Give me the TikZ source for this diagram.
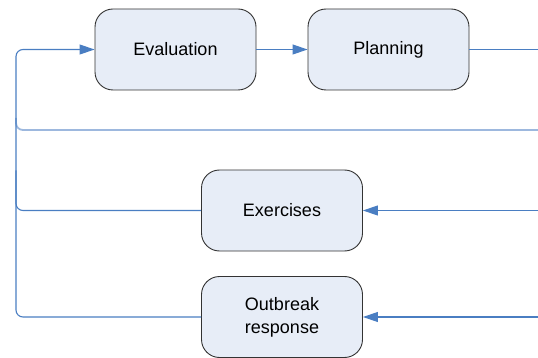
\documentclass[tikz,border=0pt]{standalone}
\usepackage{fontspec}
\setmainfont{Liberation Sans}
\usepackage{tikz}
\usetikzlibrary{arrows.meta}
\definecolor{flowblue}{HTML}{4A7EC2}
\definecolor{flowpale}{HTML}{9DB8DE}
\definecolor{stagefill}{HTML}{E7EDF7}
\tikzstyle{stage}=[rectangle, draw=black!80, fill=stagefill, line width=0.9pt,
    rounded corners=18pt, minimum width=161pt, minimum height=81pt, inner sep=0pt,
    align=center, font=\fontsize{18}{23}\selectfont]
\tikzstyle{flow}=[draw=flowblue, line width=1.1pt]
\providecommand{\stage}{\node[stage]}

\begin{document}
\begin{tikzpicture}[x=1pt, y=-1pt,
    every edge/.style={flow, -{Triangle[length=15pt, width=10pt]}}
]
\useasboundingbox (0,0) rectangle (538,358);
\stage (eval) at (175.5,49.5) {Evaluation};
\stage (plan) at (388.5,49.5) {Planning};
\stage (exer) at (282,210.5) {Exercises};
\stage (resp) at (282,317) {Outbreak\\response};
\coordinate (bus) at (16,0);
\coordinate (planout) at (538,49.5);
\coordinate (back) at (538,130);
\coordinate (exerin) at (538,210.5);
\coordinate (respin) at (538,317);
\draw[draw=flowpale, line width=1.8pt, rounded corners=7pt]
    (back) -- (back -| bus) -- ++(0,-12);
\draw[flow, rounded corners=7pt] (exer.west) -- (exer.west -| bus) -- ++(0,-40);
\draw[flow, rounded corners=7pt, -{Triangle[length=15pt, width=10pt]}]
    (resp.west) -- (resp.west -| bus) -- (eval.west -| bus) -- (eval.west);
\draw[flow] (plan.east) -- (planout);
\path
(eval) edge (plan)
(exerin) edge (exer)
(respin) edge (resp)
;
\end{tikzpicture}
\end{document}
